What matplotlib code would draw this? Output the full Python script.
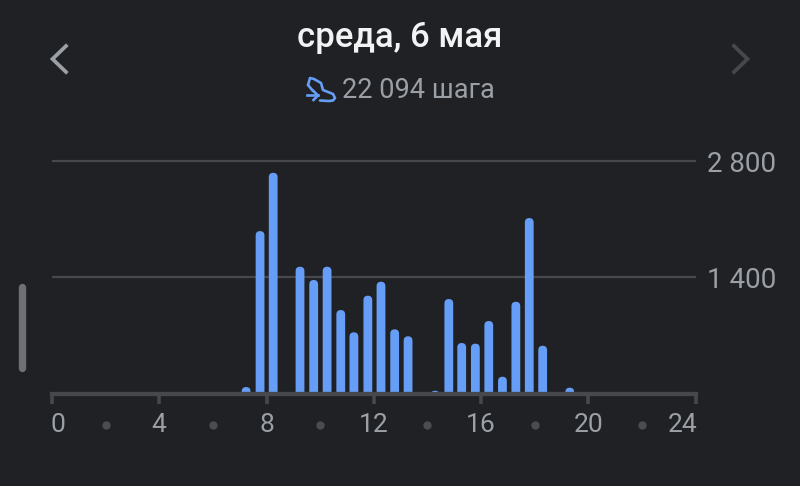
import matplotlib
matplotlib.use("Agg")
import matplotlib.pyplot as plt
from matplotlib.patches import FancyBboxPatch
from matplotlib.transforms import ScaledTranslation

# steps per half hour bucket
hours = [7.24, 7.76, 8.25, 9.25, 9.76, 10.26, 10.77, 11.26, 11.78, 12.27, 12.78, 13.28,
         14.29, 14.80, 15.28, 15.79, 16.29, 16.80, 17.30, 17.80, 18.30, 19.31]
steps = [78, 1956, 2658, 1527, 1367, 1527, 1005, 737, 1178, 1346, 773, 689,
         34, 1138, 608, 600, 873, 202, 1105, 2113, 575, 70]

x_ticks = [0, 4, 8, 12, 16, 20, 24]
x_dots = [2, 6, 10, 14, 18, 22]
y_ticks = [1400, 2800]
y_labels = ["1 400", "2 800"]

title = "среда, 6 мая"
subtitle = "22 094 шага"

BG = "#202124"
BLUE = "#669df6"
LINE = "#46484b"
GREY = "#9aa0a6"

plt.rcParams["font.family"] = ["Roboto", "DejaVu Sans"]

W, H = 800, 486
fig = plt.figure(figsize=(W / 100, H / 100), dpi=100, facecolor=BG)

# chart area, pixel box 52..695.5 across and 161..393.5 down
left, right, top, bottom = 52, 695.5, 161, 393.5
ax = fig.add_axes([left / W, 1 - bottom / H, (right - left) / W, (bottom - top) / H], facecolor="none")
ax.set_xlim(0, 24)
ax.set_ylim(0, 2800)

for s in ["top", "left", "right"]:
    ax.spines[s].set_visible(False)
ax.spines["bottom"].set_color(LINE)
ax.spines["bottom"].set_linewidth(3.1)
ax.spines["bottom"].set_capstyle("projecting")
ax.spines["bottom"].set_zorder(5)

ax.hlines(y_ticks, 0, 24, color=LINE, linewidth=1.6, zorder=1, clip_on=False)

# rounded tops, with corners sized in pixels
px_x = 24 / (right - left)
px_y = 2800 / (bottom - top)
bar_w = 8.8 * px_x
for h, v in zip(hours, steps):
    bar = FancyBboxPatch((h - bar_w / 2, -200), bar_w, v + 200,
                         boxstyle=f"round,pad=0,rounding_size={bar_w / 2}",
                         mutation_aspect=px_y / px_x,
                         facecolor=BLUE, edgecolor="none", zorder=3)
    ax.add_patch(bar)

ax.set_xticks(x_ticks)
ax.set_xticklabels([str(t) for t in x_ticks], fontsize=19, color=GREY)
ax.tick_params(axis="x", length=7.2, width=2.6, color=LINE, pad=6.5)
xlabels = ax.get_xticklabels()
xlabels[0].set_ha("left")
xlabels[0].set_transform(xlabels[0].get_transform() + ScaledTranslation(-2 / 100, 0, fig.dpi_scale_trans))
xlabels[-1].set_ha("right")
xlabels[-1].set_transform(xlabels[-1].get_transform() + ScaledTranslation(2 / 100, 0, fig.dpi_scale_trans))

ax.yaxis.tick_right()
ax.set_yticks(y_ticks)
ax.set_yticklabels(y_labels, fontsize=20, color=GREY)
ax.tick_params(axis="y", length=0, pad=8)

# small dots between the hour labels
ax.scatter(x_dots, [-0.135] * len(x_dots), s=36, color="#4a4c4f", linewidths=0,
           transform=ax.get_xaxis_transform(), clip_on=False, zorder=4)

# header and controls in pixel coordinates
ui = fig.add_axes([0, 0, 1, 1], facecolor="none", zorder=-1)
ui.set_xlim(0, W)
ui.set_ylim(H, 0)
ui.axis("off")

ui.text(400, 38, title, ha="center", va="center", fontsize=25, color="#f1f3f4", fontweight="medium")
ui.text(342.5, 90, subtitle, ha="left", va="center", fontsize=19.5, color=GREY)

ui.plot([66, 52.5, 66], [46, 59, 72], color=GREY, linewidth=2.7, solid_joinstyle="miter")
ui.plot([734, 747.5, 734], [46, 59, 72], color=LINE, linewidth=2.7, solid_joinstyle="miter")
ui.plot([22, 22], [287, 368], color="#6e7073", linewidth=5.3, solid_capstyle="round")

# shoe icon
shoe_x = [308, 310, 314, 321, 323, 333, 335, 333, 329, 320]
shoe_y = [85, 78, 79, 83, 90, 94, 98, 100.5, 101, 100.5]
ui.plot(shoe_x, shoe_y, color=BLUE, linewidth=1.9, solid_joinstyle="round", solid_capstyle="round")
ui.plot([308, 313], [85, 91], color=BLUE, linewidth=1.9, solid_capstyle="round")
ui.plot([307, 318], [95.5, 95.5], color=BLUE, linewidth=1.9)
ui.plot([313.5, 318, 313.5], [91, 95.5, 100], color=BLUE, linewidth=1.9)

fig.savefig("out.png", dpi=100, facecolor=BG)
